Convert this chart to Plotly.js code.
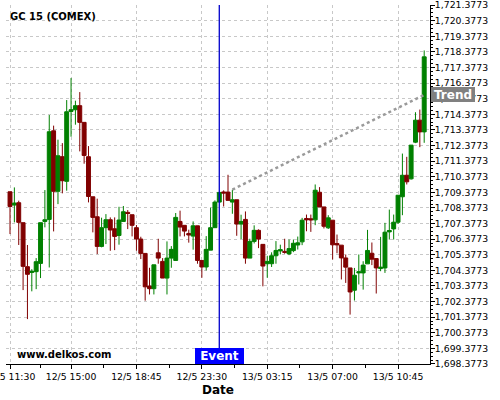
<!DOCTYPE html>
<html><head><meta charset="utf-8">
<script src="https://cdn.plot.ly/plotly-3.0.1.min.js"></script>
<style>html,body{margin:0;padding:0;background:#fff}</style>
</head><body><div id="chart" style="width:500px;height:400px"></div>
<script>
const times = [
'12/5 11:30','12/5 11:45','12/5 12:00','12/5 12:15','12/5 12:30','12/5 12:45','12/5 13:00','12/5 13:15','12/5 13:30','12/5 13:45',
'12/5 14:00','12/5 14:15','12/5 14:30','12/5 14:45','12/5 15:00','12/5 15:15','12/5 15:30','12/5 15:45','12/5 16:00','12/5 16:15',
'12/5 16:30','12/5 16:45','12/5 17:00','12/5 17:15','12/5 17:30','12/5 17:45','12/5 18:00','12/5 18:15','12/5 18:30','12/5 18:45',
'12/5 19:00','12/5 19:15','12/5 19:30','12/5 19:45','12/5 20:00','12/5 20:15','12/5 20:30','12/5 20:45','12/5 21:00','12/5 21:15',
'12/5 21:30','12/5 21:45','12/5 23:00','12/5 23:15','12/5 23:30','12/5 23:45','13/5 00:00','13/5 00:15','13/5 00:30','13/5 00:45',
'13/5 01:00','13/5 01:15','13/5 01:30','13/5 01:45','13/5 02:00','13/5 02:15','13/5 02:30','13/5 02:45','13/5 03:00','13/5 03:15',
'13/5 03:30','13/5 03:45','13/5 04:00','13/5 04:15','13/5 04:30','13/5 04:45','13/5 05:00','13/5 05:15','13/5 05:30','13/5 05:45',
'13/5 06:00','13/5 06:15','13/5 06:30','13/5 06:45','13/5 07:00','13/5 07:15','13/5 07:30','13/5 07:45','13/5 08:00','13/5 08:15',
'13/5 08:30','13/5 08:45','13/5 09:00','13/5 09:15','13/5 09:30','13/5 09:45','13/5 10:00','13/5 10:15','13/5 10:30','13/5 10:45',
'13/5 11:00','13/5 11:15','13/5 11:30','13/5 11:45','13/5 12:00','13/5 12:15'];

const open = [
1709.41,1708.56,1708.71,1707.43,1704.61,1704.24,1704.29,1704.82,1707.51,1707.64,
1713.32,1709.44,1711.66,1710.08,1714.56,1714.67,1714.93,1713.86,1711.66,1709.09,
1707.81,1705.91,1707.11,1707.62,1707.04,1706.61,1707.51,1708.09,1707.94,1707.11,
1706.38,1705.46,1703.37,1703.20,1705.50,1704.95,1703.88,1705.16,1705.01,1707.51,
1707.26,1706.74,1706.57,1707.23,1705.01,1704.59,1705.67,1707.11,1708.75,1709.40,
1709.39,1708.75,1708.90,1707.34,1707.64,1705.16,1706.23,1706.94,1706.04,1704.80,
1704.80,1705.31,1705.62,1705.59,1705.43,1705.64,1706.00,1706.20,1707.70,1707.68,
1707.61,1709.38,1708.44,1707.10,1707.59,1706.09,1705.99,1705.17,1704.53,1703.10,
1704.21,1704.21,1704.79,1705.47,1705.13,1704.49,1704.53,1706.84,1707.03,1707.46,
1709.09,1710.47,1710.24,1712.59,1714.00,1713.25];
const high = [
1709.41,1709.69,1708.84,1707.43,1706.00,1704.45,1705.16,1707.43,1709.52,1714.33,
1713.65,1712.75,1712.53,1715.29,1716.70,1715.25,1715.80,1713.86,1712.34,1709.09,
1708.97,1707.75,1707.98,1707.77,1707.77,1708.45,1708.50,1708.24,1707.94,1707.28,
1706.53,1705.46,1704.54,1704.73,1706.40,1705.16,1706.23,1705.93,1708.05,1708.20,
1707.26,1706.98,1707.51,1707.23,1705.01,1706.57,1708.39,1708.86,1709.37,1709.50,
1710.50,1709.54,1708.90,1707.94,1708.15,1706.40,1707.26,1707.00,1706.04,1705.31,
1705.53,1706.25,1706.02,1706.40,1706.35,1706.35,1706.54,1707.74,1707.95,1707.95,
1709.88,1709.71,1708.44,1707.91,1707.59,1706.67,1705.99,1705.39,1704.53,1704.53,
1705.39,1704.96,1706.97,1706.16,1705.13,1706.52,1707.42,1708.27,1707.95,1709.19,
1711.86,1711.65,1712.40,1714.51,1714.68,1718.47];
const low = [
1706.70,1707.45,1706.00,1703.11,1701.25,1703.03,1703.17,1703.88,1707.13,1704.56,
1706.87,1708.62,1709.31,1709.48,1712.94,1713.71,1712.00,1711.21,1708.73,1706.81,
1705.42,1705.85,1706.06,1705.63,1705.67,1706.02,1707.49,1707.02,1706.55,1705.63,
1705.10,1702.43,1702.83,1702.83,1704.80,1703.88,1702.83,1704.54,1705.01,1706.55,
1706.55,1706.15,1705.70,1704.80,1703.90,1704.37,1705.67,1707.11,1708.75,1708.47,
1708.86,1708.00,1706.59,1706.38,1704.80,1705.16,1706.10,1705.80,1703.35,1703.90,
1704.59,1704.80,1705.40,1705.44,1705.35,1705.54,1705.71,1705.99,1706.88,1706.84,
1707.27,1708.44,1707.06,1707.03,1705.07,1705.47,1703.79,1703.57,1701.54,1702.44,
1703.47,1703.14,1704.79,1704.71,1702.89,1704.32,1704.21,1706.35,1706.35,1707.35,
1707.91,1709.88,1710.19,1712.53,1712.27,1712.55];
const close = [
1708.47,1708.69,1707.45,1704.63,1704.12,1704.31,1704.93,1707.43,1707.62,1713.26,
1709.44,1711.72,1710.12,1714.54,1714.67,1714.93,1713.86,1711.74,1709.11,1707.77,
1705.91,1707.11,1707.62,1706.96,1706.55,1707.60,1708.13,1708.02,1707.26,1706.38,
1705.46,1703.32,1703.20,1704.73,1705.16,1703.88,1705.16,1705.72,1707.77,1707.15,
1706.89,1706.64,1707.23,1705.01,1704.59,1705.72,1707.11,1708.75,1709.37,1709.33,
1708.86,1708.90,1707.34,1707.51,1705.16,1706.23,1706.94,1706.38,1704.65,1704.95,
1705.31,1705.65,1705.70,1705.53,1705.77,1706.11,1706.14,1707.59,1707.61,1707.61,
1709.51,1708.44,1707.20,1707.74,1706.01,1706.01,1705.17,1704.58,1702.99,1704.06,
1704.28,1704.71,1705.65,1705.09,1704.53,1704.58,1706.82,1706.93,1707.46,1709.19,
1710.47,1710.05,1712.40,1714.00,1713.25,1718.06];

const xTickLabels = ['12/5 11:30','12/5 15:00','12/5 18:45','12/5 23:30','13/5 03:15','13/5 07:00','13/5 10:45'];
const eventTime = '13/5 00:30';
const eventLabel = 'Event';
const trendTimes = ['13/5 01:15','13/5 12:15'];
const trendPrices = [1709.55, 1715.62];
const trendLabel = 'Trend';
const chartTitle = 'GC 15 (COMEX)';
const watermark = 'www.delkos.com';

const FONT = 'DejaVu Sans';

const traces = [
  {
    type: 'scatter', mode: 'lines', x: trendTimes, y: trendPrices,
    line: {color: '#9a9a9a', width: 2.5, dash: 'dot'}, hoverinfo: 'skip'
  },
  {
    type: 'candlestick', x: times, open: open, high: high, low: low, close: close,
    increasing: {line: {color: '#008000', width: 1}, fillcolor: '#008000'},
    decreasing: {line: {color: '#800000', width: 1}, fillcolor: '#800000'},
    whiskerwidth: 0, hoverinfo: 'skip'
  }
];

const layout = {
  width: 500, height: 400,
  margin: {l: 6, r: 70, t: 5, b: 36},
  paper_bgcolor: '#fff', plot_bgcolor: '#fff',
  font: {family: FONT, size: 9.3, color: '#000'},
  showlegend: false, hovermode: false,
  boxgap: 0.1, boxgroupgap: 0,
  title: {
    text: '<b>' + chartTitle + '</b>', font: {family: FONT, size: 10, color: '#000'},
    xref: 'container', yref: 'container', x: 10/500, xanchor: 'left', y: 1 - 16/400, yanchor: 'middle'
  },
  xaxis: {
    type: 'category', categoryorder: 'array', categoryarray: times,
    range: [-0.92, 96.33], fixedrange: true,
    rangeslider: {visible: false},
    tickmode: 'array', tickvals: xTickLabels, ticklabeloverflow: 'allow',
    ticks: 'outside', ticklen: 4, tickcolor: '#000', tickfont: {size: 9.3},
    showline: true, linecolor: '#000', linewidth: 1,
    showgrid: true, gridcolor: '#c8c8c8', griddash: '3px,3px', gridwidth: 1,
    zeroline: false,
    minor: {tickvals: [7, 21.5, 36.5, 51.5, 66.5, 81.5], ticks: 'outside', ticklen: 3, tickcolor: '#000', showgrid: false},
    title: {text: '<b>Date</b>', font: {size: 12, color: '#000'}, standoff: 4}
  },
  yaxis: {
    side: 'right', range: [1698.3723, 1721.3823], fixedrange: true,
    tickmode: 'linear', tick0: 1698.3773, dtick: 1, tickformat: ',.4f',
    ticklabeloverflow: 'allow', ticklabelstandoff: -2,
    ticks: 'outside', ticklen: 4, tickcolor: '#000', tickfont: {size: 9.3},
    showline: true, linecolor: '#000', linewidth: 1,
    showgrid: true, gridcolor: '#c8c8c8', griddash: '3px,3px', gridwidth: 1,
    zeroline: false,
    minor: {tick0: 1698.3773, dtick: 0.25, ticks: 'outside', ticklen: 2, tickcolor: '#000', showgrid: false}
  },
  shapes: [
    {type: 'line', xref: 'x', yref: 'paper', x0: eventTime, x1: eventTime, y0: 0, y1: 1,
     line: {color: '#0000cc', width: 1.3}, layer: 'above'}
  ],
  annotations: [
    {text: '<b>' + watermark + '</b>', xref: 'paper', yref: 'paper', x: 9/424, y: 10/359,
     xanchor: 'left', yanchor: 'middle', showarrow: false, font: {family: FONT, size: 10, color: '#000'}},
    {text: '<b>' + eventLabel + '</b>', xref: 'x', yref: 'paper', x: eventTime, y: 0,
     xanchor: 'center', yanchor: 'bottom', showarrow: false, bgcolor: '#0000ff',
     borderwidth: 0, borderpad: 0, width: 49, height: 16,
     font: {family: FONT, size: 12, color: '#fff'}},
    {text: '<b>' + trendLabel + '</b>', xref: 'paper', yref: 'y', x: 1, xshift: 1, y: trendPrices[1],
     xanchor: 'left', yanchor: 'middle', showarrow: false, bgcolor: '#808080',
     borderwidth: 0, borderpad: 0, width: 44, height: 15,
     font: {family: FONT, size: 12, color: '#fff'}}
  ]
};

Plotly.newPlot('chart', traces, layout, {displayModeBar: false, staticPlot: true});
</script>
</body></html>
